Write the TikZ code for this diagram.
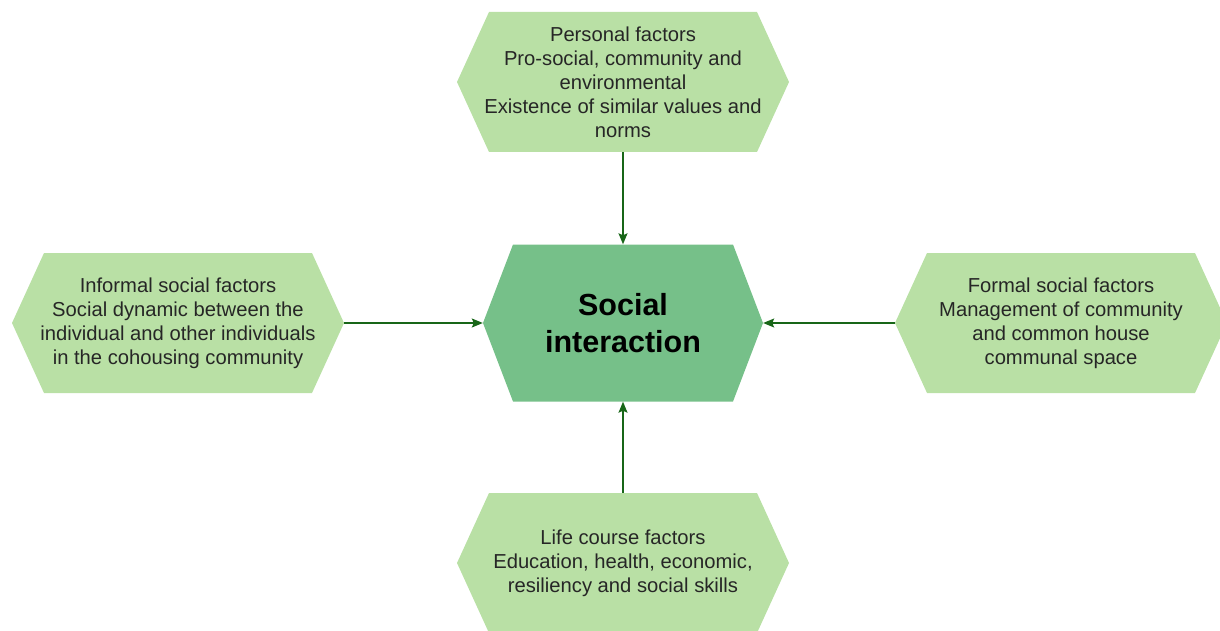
\documentclass[tikz,border=0pt]{standalone}
\usepackage{fontspec}
\setmainfont{Liberation Sans}
\usetikzlibrary{arrows.meta}
\definecolor{lightg}{RGB}{185,224,165}
\definecolor{midg}{RGB}{118,192,137}
\definecolor{arrowg}{RGB}{24,102,24}
\definecolor{txt}{RGB}{38,38,38}
\tikzset{
  hexa/.style n args={4}{minimum width=#1, minimum height=#2, inner sep=0pt,
    align=center, text=txt,
    path picture={\fill[#4]
      ([xshift=#3]path picture bounding box.north west) --
      ([xshift=-#3]path picture bounding box.north east) --
      (path picture bounding box.east) --
      ([xshift=-#3]path picture bounding box.south east) --
      ([xshift=#3]path picture bounding box.south west) --
      (path picture bounding box.west) -- cycle;}},
  lighthex/.style={hexa={332pt}{140pt}{32pt}{lightg}, font=\fontsize{20.2}{24}\selectfont},
  centerhex/.style={hexa={280pt}{157pt}{30pt}{midg}, text=black, font=\fontsize{30.5}{37}\selectfont\bfseries},
  arr/.style={draw=arrowg, line width=1.3pt, -{Stealth[length=11pt,width=9pt,inset=2pt]}}
}
\begin{document}
\begin{tikzpicture}[x=1pt,y=-1pt]
\useasboundingbox (0,0) rectangle (1220,631);
\begin{scope}
\clip (0,0) rectangle (1220,631);
\node[centerhex] (c) at (623,323) {Social\\interaction};
\node[lighthex] (top) at (623,82) {Personal factors\\Pro-social, community and\\environmental\\Existence of similar values and\\norms};
\node[lighthex] (left) at (178,323) {Informal social factors\\Social dynamic between the\\individual and other individuals\\in the cohousing community};
\node[lighthex] (right) at (1061,323) {Formal social factors\\Management of community\\and common house\\communal space};
\node[lighthex] (bot) at (623,563) {Life course factors\\Education, health, economic,\\resiliency and social skills};
\end{scope}
\draw[arr] (top.south) -- (c.north);
\draw[arr] (bot.north) -- (c.south);
\draw[arr] (left.east) -- (c.west);
\draw[arr] (right.west) -- (c.east);
\end{tikzpicture}
\end{document}
